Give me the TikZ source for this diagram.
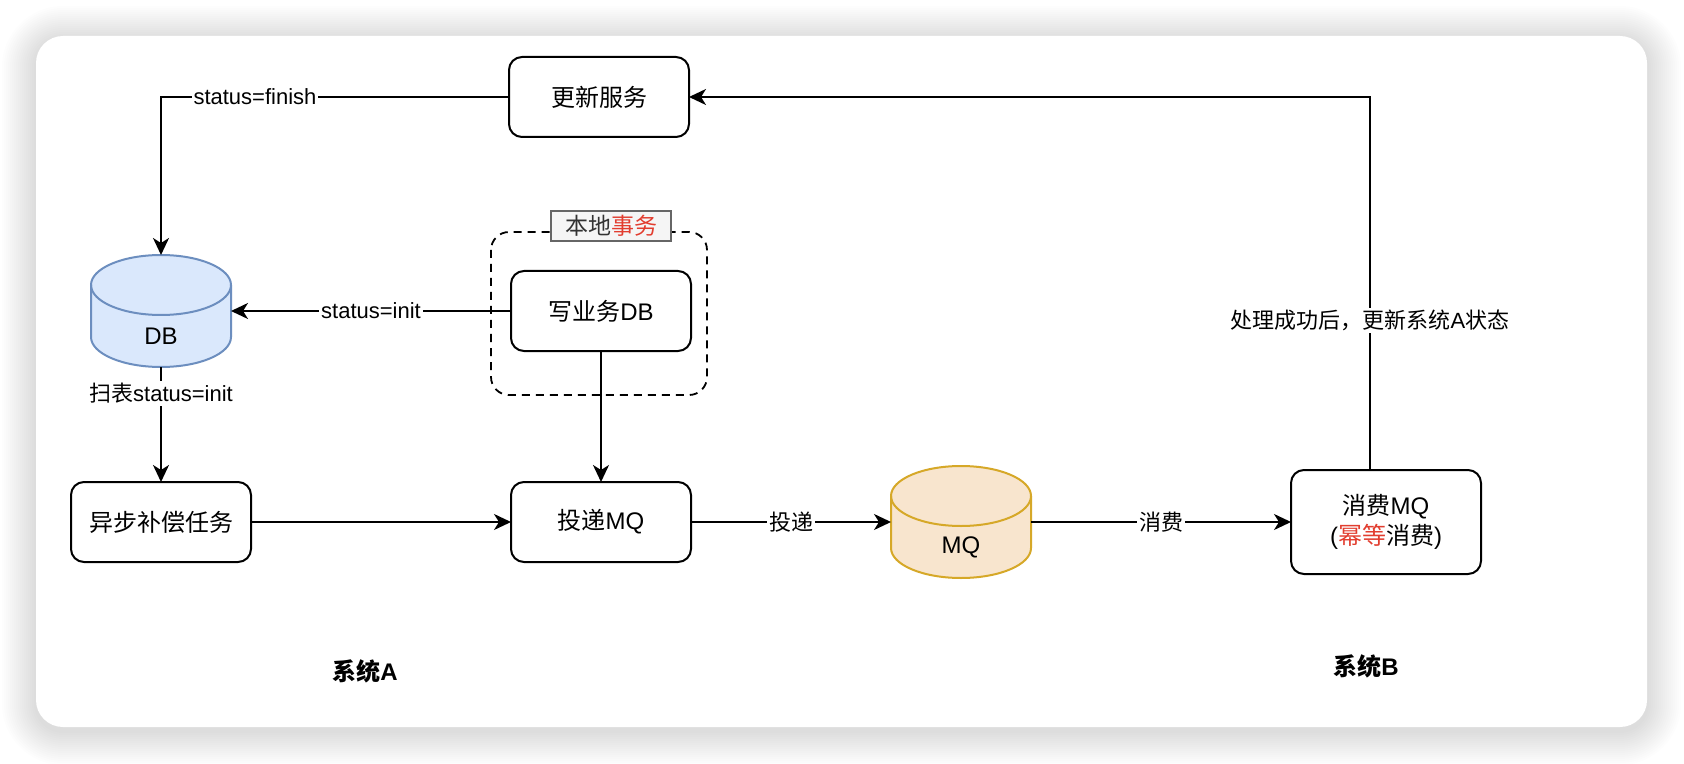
\documentclass[tikz,border=0pt]{standalone}
\usepackage{fontspec}
\setmainfont{Liberation Sans}
\newfontfamily\cjk{Noto Sans CJK SC}
\usetikzlibrary{arrows.meta,positioning,calc}

\definecolor{dbfill}{HTML}{DAE8FC}
\definecolor{dbline}{HTML}{6C8EBF}
\definecolor{mqfill}{HTML}{F8E5CE}
\definecolor{mqline}{HTML}{D6A828}
\definecolor{redtxt}{HTML}{E23D2F}
\definecolor{tagfill}{HTML}{F5F5F5}
\definecolor{tagline}{HTML}{666666}
\definecolor{tagtxt}{HTML}{333333}

% cylinder drawn on a named node: name, fill, line
\newcommand\drawtank[3]{%
  \draw[line width=1pt,draw=#3,fill=#2] ([yshift=-15pt]#1.north west) -- ([yshift=15pt]#1.south west)
    arc[start angle=180,end angle=360,x radius=35pt,y radius=15pt]
    -- ([yshift=-15pt]#1.north east)
    arc[start angle=0,end angle=180,x radius=35pt,y radius=15pt] -- cycle;
  \draw[line width=1pt,draw=#3] ([yshift=-15pt]#1.north west)
    arc[start angle=180,end angle=360,x radius=35pt,y radius=15pt];}

\begin{document}
\begin{tikzpicture}[x=0.5pt,y=-0.5pt,
	task/.style={draw,line width=1pt,rounded corners=6.5pt,minimum width=90pt,minimum height=40pt,
		inner sep=0pt,outer sep=0pt,align=center,font=\fontsize{12pt}{15pt}\selectfont},
	tankbox/.style={minimum width=70pt,minimum height=56pt,inner sep=0pt,outer sep=0pt},
	flow/.style={line width=1pt,-{Stealth[length=8.5pt,width=8pt,inset=2.5pt]}},
	edgelbl/.style={fill=white,inner sep=1pt,font=\fontsize{11pt}{13pt}\selectfont},
	sysname/.style={font=\fontsize{12pt}{14pt}\selectfont\bfseries}]

	\useasboundingbox (0, 0) rectangle (1684, 764);

	% card with soft shadow
	\foreach \i [evaluate=\i as \r using 13.5+\i] in {1,...,17}
		\fill[black,opacity=0.009,rounded corners=\r pt] (36-2*\i, 40-2*\i) rectangle (1647+2*\i, 731+2*\i);
	\fill[white,rounded corners=13.5pt] (36, 36) rectangle (1647, 727);

	% local transaction group
	\draw[line width=0.9pt,dash pattern=on 4pt off 3pt,rounded corners=9pt] (491, 232) rectangle (707, 395);
	\node[draw=tagline,fill=tagfill,text=tagtxt,line width=0.8pt,minimum width=60pt,minimum height=15pt,
		inner sep=0pt,font=\fontsize{11.5pt}{13pt}\selectfont] (tx) at (611, 226) {{\cjk 本地}{\cjk\color{redtxt}事务}};

	\node[task] (upd) at (599, 97) {{\cjk 更新服务}};
	\node[task] (wdb) at (601, 311) {{\cjk 写业务}DB};
	\node[task] (comp) at (161, 522) {{\cjk 异步补偿任务}};
	\node[task] (send) at (601, 522) {{\cjk 投递}MQ};
	\node[task,minimum width=95pt,minimum height=52pt] (cons) at (1386, 522)
		{{\cjk 消费}MQ\\({\cjk\color{redtxt}幂等}{\cjk 消费})};

	\node[tankbox] (db) at (161, 311) {};
	\drawtank{db}{dbfill}{dbline}
	\node[font=\fontsize{12pt}{14pt}\selectfont] (dbtext) at ([yshift=-12.5pt]db.center) {DB};

	\node[tankbox] (mq) at (961, 522) {};
	\drawtank{mq}{mqfill}{mqline}
	\node[font=\fontsize{12pt}{14pt}\selectfont] (mqtext) at ([yshift=-12.5pt]mq.center) {MQ};

	\draw[flow] (upd.west) -| (db.north) node[edgelbl,pos=0.365] (lfin) {status=finish};
	\draw[flow] (wdb.west) -- (db.east) node[edgelbl,midway] (linit) {status=init};
	\draw[flow] (db.south) -- (comp.north) node[edgelbl,pos=0.23] (lscan) {{\cjk 扫表}status=init};
	\draw[flow] (wdb.south) -- (send.north);
	\draw[flow] (comp.east) -- (send.west);
	\draw[flow] (send.east) -- (mq.west) node[edgelbl,midway] (lsend) {{\cjk 投递}};
	\draw[flow] (mq.east) -- (cons.west) node[edgelbl,midway] (lcons) {{\cjk 消费}};

	\coordinate (back) at ([xshift=-8pt]cons.north);
	\draw[flow] (back) |- (upd.east) node[edgelbl,pos=0.2] (ldone) {{\cjk 处理成功后，更新系统}A{\cjk 状态}};

	\node[sysname] (sysa) at (365, 671) {{\cjk 系统}A};
	\node[sysname] (sysb) at (1366, 666) {{\cjk 系统}B};

\end{tikzpicture}
\end{document}
